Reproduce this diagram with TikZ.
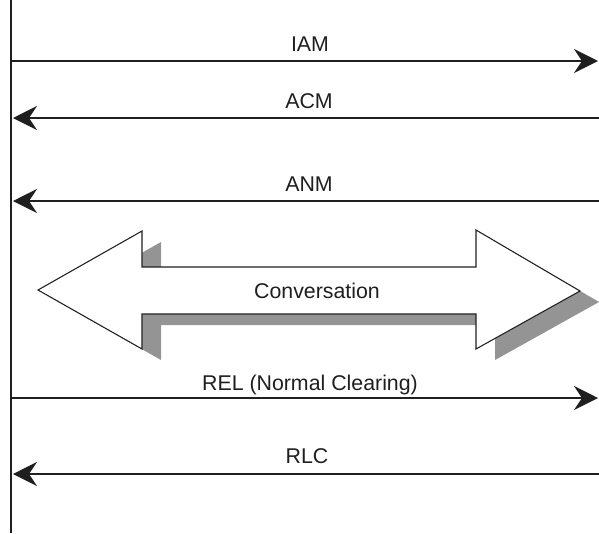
\documentclass[tikz,border=0pt]{standalone}
\usepackage{fontspec}
\setmainfont{Liberation Sans}
\usetikzlibrary{arrows.meta}

\tikzset{
  msg/.style={line width=1.8pt, draw=black!88, -{Stealth[length=18pt,width=18pt,inset=6pt]}},
  msglabel/.style={anchor=base, inner sep=0.75pt, text=black!88, font=\fontsize{16}{19}\selectfont},
}

\begin{document}
\begin{tikzpicture}[x=0.75pt,y=0.75pt,yscale=-1,xscale=1]
        \useasboundingbox (0,0) rectangle (599,533);
        % lifeline
        \coordinate (top) at (11,0);
        \coordinate (bottom) at (11,533);
        \draw [line width=1.6pt, draw=black!88] (top) -- (bottom);
        % message end points
        \coordinate (iamL) at (11,61);   \coordinate (iamR) at (598,61);
        \coordinate (acmL) at (13,118);  \coordinate (acmR) at (599,118);
        \coordinate (anmL) at (13,201);  \coordinate (anmR) at (599,201);
        \coordinate (relL) at (11,398);  \coordinate (relR) at (598,398);
        \coordinate (rlcL) at (13,474);  \coordinate (rlcR) at (599,474);
        \draw [msg] (iamL) -- (iamR);
        \draw [msg] (acmR) -- (acmL);
        \draw [msg] (anmR) -- (anmL);
        \draw [msg] (relL) -- (relR);
        \draw [msg] (rlcR) -- (rlcL);
        \node (iam) [msglabel] at (310,51) {IAM};
        \node (acm) [msglabel] at (309,108) {ACM};
        \node (anm) [msglabel] at (309,191) {ANM};
        \node (rel) [msglabel] at (310,390) {REL (Normal Clearing)};
        \node (rlc) [msglabel] at (307,463) {RLC};
        % conversation arrow with shadow
        \fill [black!42, shift={(19,11)}] (38,290) -- (142,231) -- (142,267) -- (476,267) -- (476,230) -- (580,291) -- (476,349) -- (476,314) -- (142,314) -- (142,349) -- cycle;
        \draw [fill=white, draw=black!88, line width=0.8pt] (38,290) -- (142,231) -- (142,267) -- (476,267) -- (476,230) -- (580,291) -- (476,349) -- (476,314) -- (142,314) -- (142,349) -- cycle;
        \node (conv) [msglabel] at (317,298) {Conversation};
\end{tikzpicture}
\end{document}
